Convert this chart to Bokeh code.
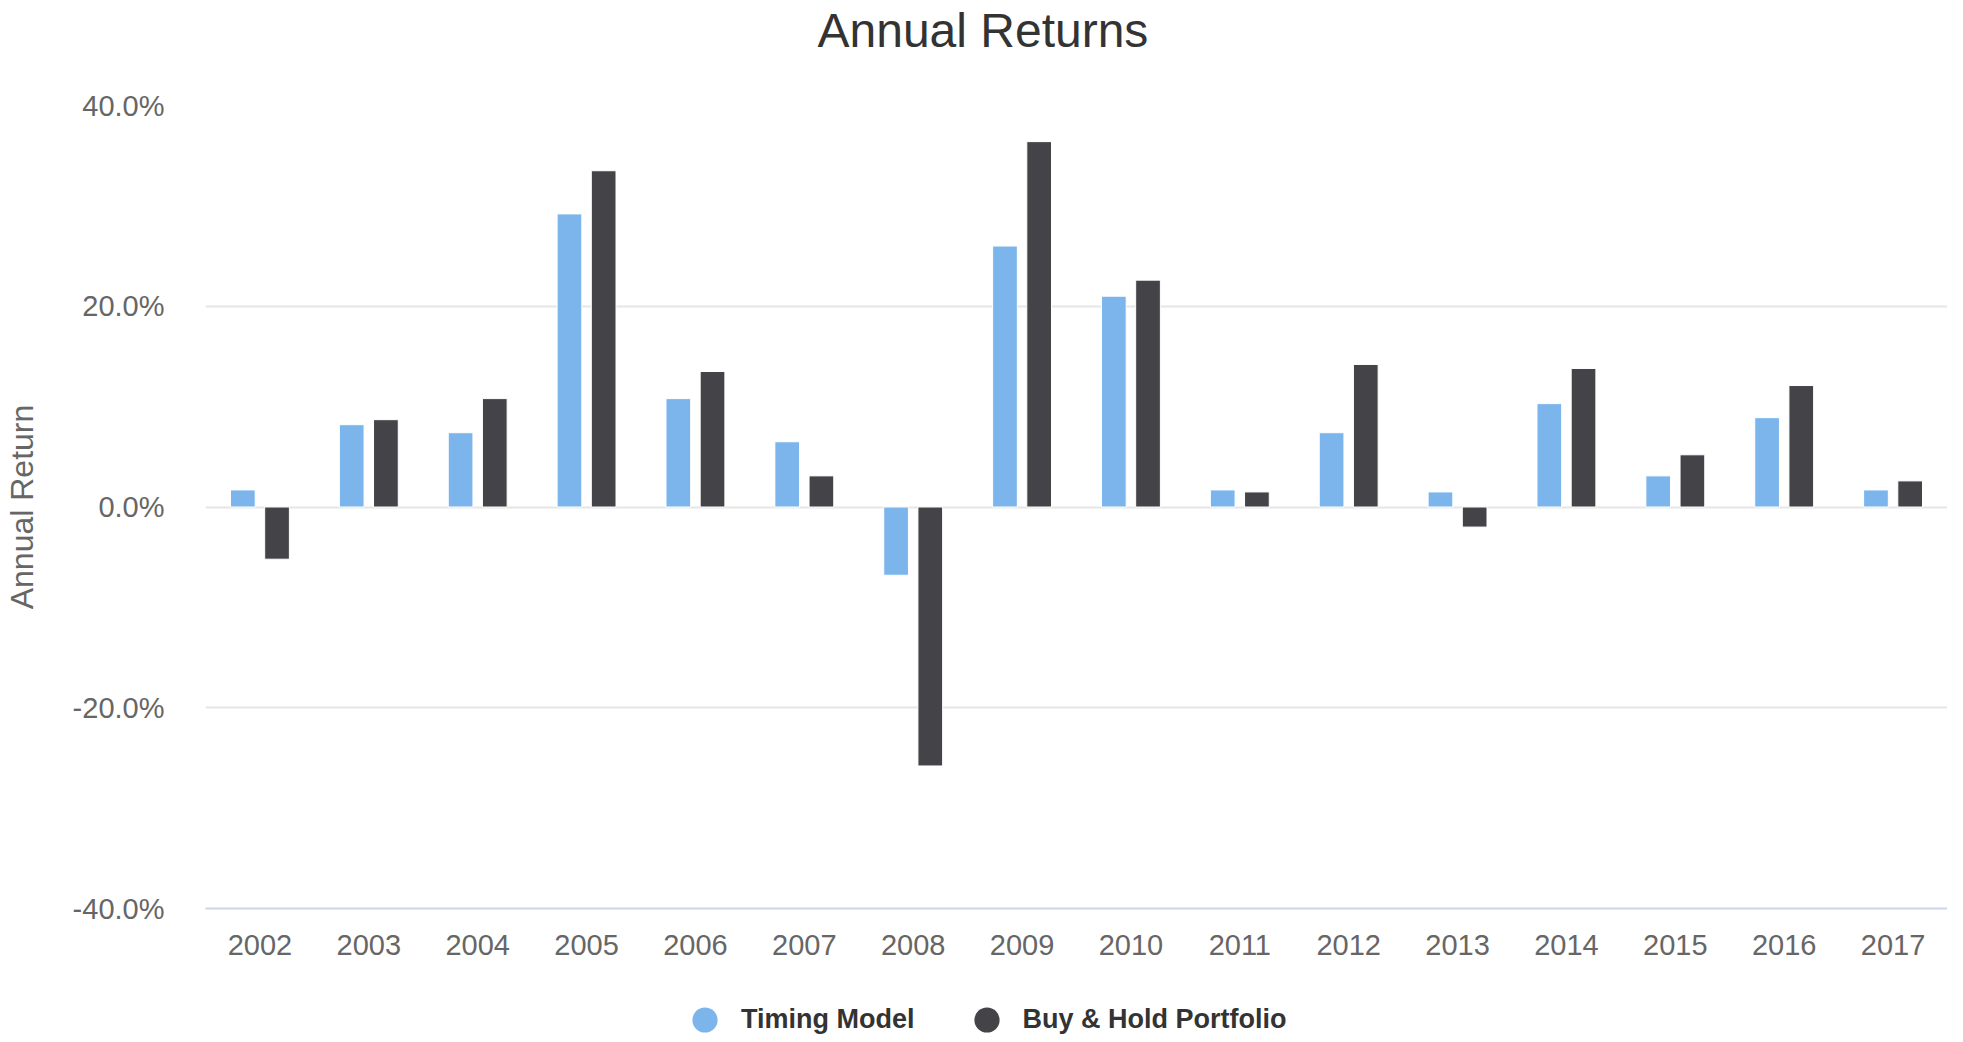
from bokeh.plotting import figure
from bokeh.layouts import column
from bokeh.models import (ColumnDataSource, FactorRange, Range1d, FixedTicker,
                          PrintfTickFormatter, Legend, LegendItem, Title)
from bokeh.transform import dodge
from bokeh.embed import file_html
from bokeh.resources import INLINE

# ---- data ----
years = ["2002", "2003", "2004", "2005", "2006", "2007", "2008", "2009",
         "2010", "2011", "2012", "2013", "2014", "2015", "2016", "2017"]
timing_model = [1.7, 8.2, 7.4, 29.2, 10.8, 6.5, -6.8, 26.0,
                21.0, 1.7, 7.4, 1.5, 10.3, 3.1, 8.9, 1.7]
buy_hold = [-5.2, 8.7, 10.8, 33.5, 13.5, 3.1, -25.8, 36.4,
            22.6, 1.5, 14.2, -2.0, 13.8, 5.2, 12.1, 2.6]
y_ticks = [-40, -20, 0, 20, 40]
series_names = ["Timing Model", "Buy & Hold Portfolio"]
series_colors = ["#7cb5ec", "#434348"]

FONT = "Liberation Sans"

src = ColumnDataSource(dict(year=years, tm=timing_model, bh=buy_hold))

p = figure(x_range=FactorRange(factors=years, range_padding=0),
           y_range=Range1d(-40, 40),
           width=1947, height=962,
           output_backend="svg", toolbar_location=None,
           min_border_left=197, min_border_right=0,
           min_border_top=105, min_border_bottom=54)

p.vbar(x=dodge("year", -0.157, range=p.x_range), top="tm", bottom=0, width=0.227,
       source=src, fill_color=series_colors[0], line_color="white", line_width=1)
p.vbar(x=dodge("year", 0.157, range=p.x_range), top="bh", bottom=0, width=0.227,
       source=src, fill_color=series_colors[1], line_color="white", line_width=1)

# spacer between title and plot area
p.add_layout(Title(text=" ", text_font_size="1px", standoff=46), "above")

# title
p.title.text = "Annual Returns"
p.title.align = "left"
p.title.offset = 612
p.title.standoff = 0
p.title.text_font = FONT
p.title.text_font_size = "48px"
p.title.text_font_style = "normal"
p.title.text_color = "#333333"

# grid
p.xgrid.grid_line_color = None
p.ygrid.ticker = FixedTicker(ticks=y_ticks)
p.ygrid.grid_line_color = "#e6e6e6"
p.ygrid.grid_line_width = 2
p.outline_line_color = None

# y axis
p.yaxis.ticker = FixedTicker(ticks=y_ticks)
p.yaxis.formatter = PrintfTickFormatter(format="%.1f%%")
p.yaxis.axis_line_color = None
p.yaxis.major_tick_line_color = None
p.yaxis.minor_tick_line_color = None
p.yaxis.major_label_text_font = FONT
p.yaxis.major_label_text_font_size = "29px"
p.yaxis.major_label_text_color = "#666666"
p.yaxis.major_label_standoff = 35
p.yaxis.axis_label = "Annual Return"
p.yaxis.axis_label_text_font = FONT
p.yaxis.axis_label_text_font_size = "32px"
p.yaxis.axis_label_text_font_style = "normal"
p.yaxis.axis_label_text_color = "#666666"
p.yaxis.axis_label_standoff = 30

# x axis
p.xaxis.axis_line_color = "#ccd6eb"
p.xaxis.axis_line_width = 2
p.xaxis.major_tick_line_color = None
p.xaxis.minor_tick_line_color = None
p.xaxis.major_label_text_font = FONT
p.xaxis.major_label_text_font_size = "29px"
p.xaxis.major_label_text_color = "#666666"
p.xaxis.major_label_standoff = 20

# ---- legend strip below the chart ----
leg = figure(width=1947, height=72, x_range=Range1d(0, 1), y_range=Range1d(0, 1),
             output_backend="svg", toolbar_location=None,
             x_axis_type=None, y_axis_type=None,
             min_border_left=0, min_border_right=0,
             min_border_top=0, min_border_bottom=0)
leg.outline_line_color = None
leg.grid.grid_line_color = None
# proxy renderers for the legend symbols (their single point lies outside the view)
leg_src = ColumnDataSource(dict(x=[-1.0], y=[-1.0]))
s1 = leg.scatter(x="x", y="y", source=leg_src, marker="circle", size=10,
                 fill_color=series_colors[0], line_color=None)
s2 = leg.scatter(x="x", y="y", source=leg_src, marker="circle", size=10,
                 fill_color=series_colors[1], line_color=None)
legend = Legend(items=[LegendItem(label=series_names[0], renderers=[s1]),
                       LegendItem(label=series_names[1], renderers=[s2])],
                location=(468, -17), orientation="horizontal",
                glyph_width=63, glyph_height=63, label_standoff=5, spacing=40,
                padding=0, margin=0, border_line_color=None,
                background_fill_alpha=0,
                label_text_font=FONT, label_text_font_size="27px",
                label_text_font_style="bold", label_text_color="#333333")
leg.add_layout(legend)

layout = column(p, leg, spacing=0)
open("out.html", "w").write(file_html(layout, INLINE))
